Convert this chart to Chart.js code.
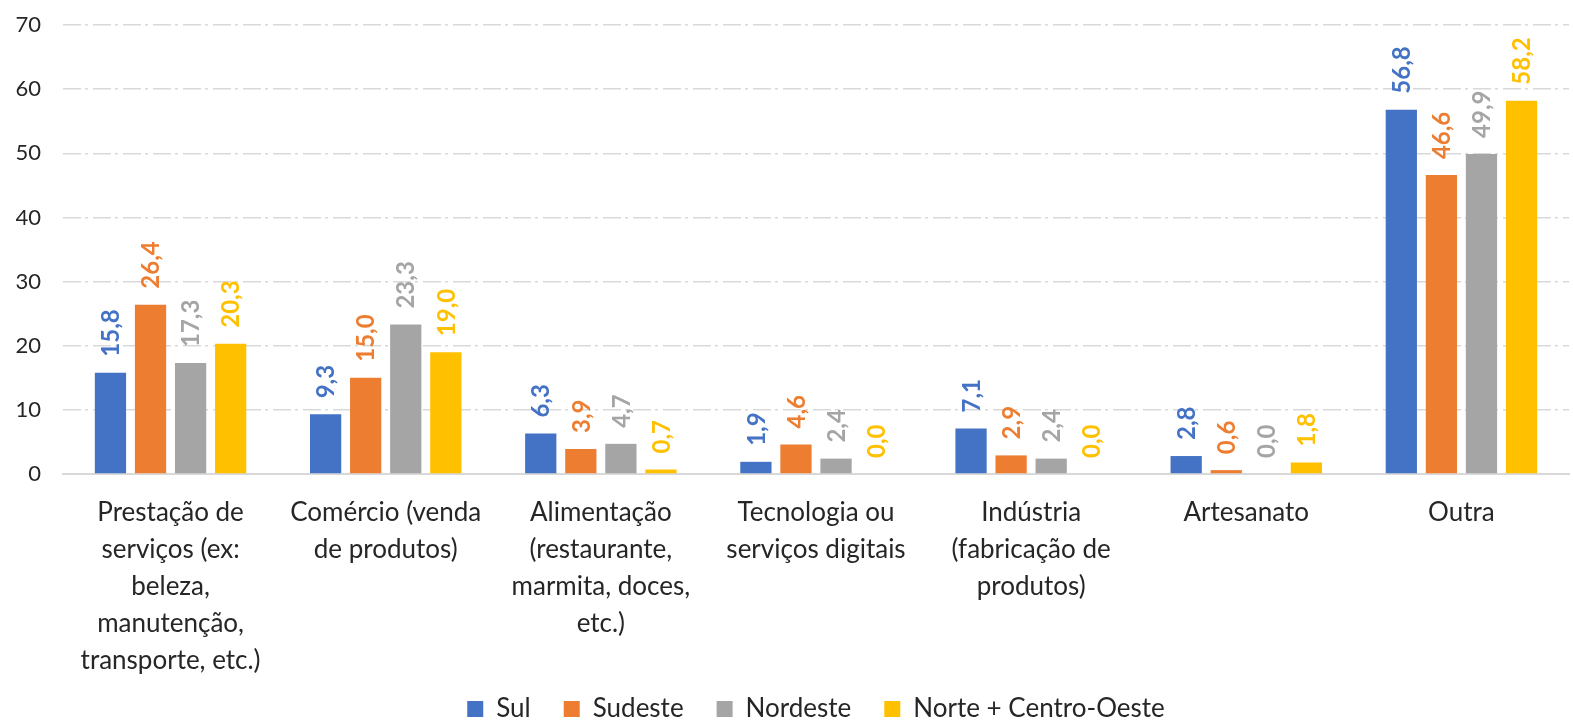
<!DOCTYPE html>
<html lang="pt-BR">
<head>
<meta charset="utf-8">
<title>Área de atuação por região</title>
<script src="https://cdn.jsdelivr.net/npm/chart.js@4.4.1/dist/chart.umd.min.js"></script>
<style>
  html, body { margin: 0; padding: 0; background: #fff; }
  #wrap { width: 1573px; height: 727px; position: relative; }
</style>
</head>
<body>
<div id="wrap"><canvas id="graf"></canvas></div>
<script>
// ---- dados ----
const CATEGORIAS = [
    ["Prestação de", "serviços (ex:", "beleza,", "manutenção,", "transporte, etc.)"],
    ["Comércio (venda", "de produtos)"],
    ["Alimentação", "(restaurante,", "marmita, doces,", "etc.)"],
    ["Tecnologia ou", "serviços digitais"],
    ["Indústria", "(fabricação de", "produtos)"],
    ["Artesanato"],
    ["Outra"],
];
const SERIES = ["Sul", "Sudeste", "Nordeste", "Norte + Centro-Oeste"];
const SUL      = [15.8, 9.3, 6.3, 1.9, 7.1, 2.8, 56.8];
const SUDESTE  = [26.4, 15.0, 3.9, 4.6, 2.9, 0.6, 46.6];
const NORDESTE = [17.3, 23.3, 4.7, 2.4, 2.4, 0.0, 49.9];
const NORTE_CO = [20.3, 19.0, 0.7, 0.0, 0.0, 1.8, 58.2];
const Y_TICKS  = [0, 10, 20, 30, 40, 50, 60, 70];

const CORES = ["#4472C4", "#ED7D31", "#A5A5A5", "#FFC000"];
const FONTE = "Lato, 'Open Sans', sans-serif";

// rótulos de valor girados 90° acima das barras
const rotulos = {
    id: "rotulos",
    afterDatasetsDraw(chart) {
        const ctx = chart.ctx;
        chart.data.datasets.forEach((ds, i) => {
            const meta = chart.getDatasetMeta(i);
            meta.data.forEach((bar, j) => {
                const txt = ds.data[j].toFixed(1).replace(".", ",");
                ctx.save();
                ctx.translate(bar.x, bar.y - 16);
                ctx.rotate(-Math.PI / 2);
                ctx.font = "bold 24px " + FONTE;
                ctx.fillStyle = CORES[i];
                ctx.textAlign = "left";
                ctx.textBaseline = "middle";
                ctx.fillText(txt, 0, 1);
                ctx.restore();
            });
        });
    }
};

const dados = [SUL, SUDESTE, NORDESTE, NORTE_CO];

new Chart(document.getElementById("graf"), {
    type: "bar",
    data: {
        labels: CATEGORIAS,
        datasets: SERIES.map((nome, i) => ({
            label: nome,
            data: dados[i],
            backgroundColor: CORES[i],
            categoryPercentage: 0.745,
            barPercentage: 0.78,
        })),
    },
    options: {
        responsive: true, maintainAspectRatio: false, animation: false,
        layout: { padding: { top: 25, right: 4, left: 16, bottom: 0 } },
        plugins: {
            legend: {
                position: "bottom",
                fullSize: false,
                maxHeight: 64,
                labels: {
                    font: { family: FONTE, size: 26 }, color: "#262626",
                    boxWidth: 16, boxHeight: 16, padding: 33,
                },
            },
            tooltip: { enabled: false },
        },
        scales: {
            x: {
                grid: { display: false },
                border: { display: true, color: "#d9d9d9", width: 2 },
                ticks: {
                    font: { family: FONTE, size: 26, lineHeight: 1.42 },
                    color: "#262626", padding: 12, maxRotation: 0, autoSkip: false,
                },
                // altura fixa; sem recorte, os rótulos podem passar da caixa do eixo
                afterFit: s => {
                    s.height = 189; s.paddingLeft = 0; s.paddingRight = 0;
                    s._computeLabelArea = () => undefined;
                },
            },
            y: {
                min: 0, max: 70,
                afterBuildTicks: s => { s.ticks = Y_TICKS.map(v => ({ value: v })); },
                afterFit: s => { s.width = 47; s.paddingTop = 0; s.paddingBottom = 0; },
                grid: {
                    color: "#d9d9d9", lineWidth: 1.5, drawTicks: false,
                },
                border: {
                    display: false,
                    dash: c => (c.tick && c.tick.value === 0 ? [] : [18, 4, 3, 5]),
                },
                ticks: {
                    font: { family: FONTE, size: 22 }, color: "#262626", padding: 22,
                },
            },
        },
    },
    plugins: [rotulos],
});
</script>
</body>
</html>
